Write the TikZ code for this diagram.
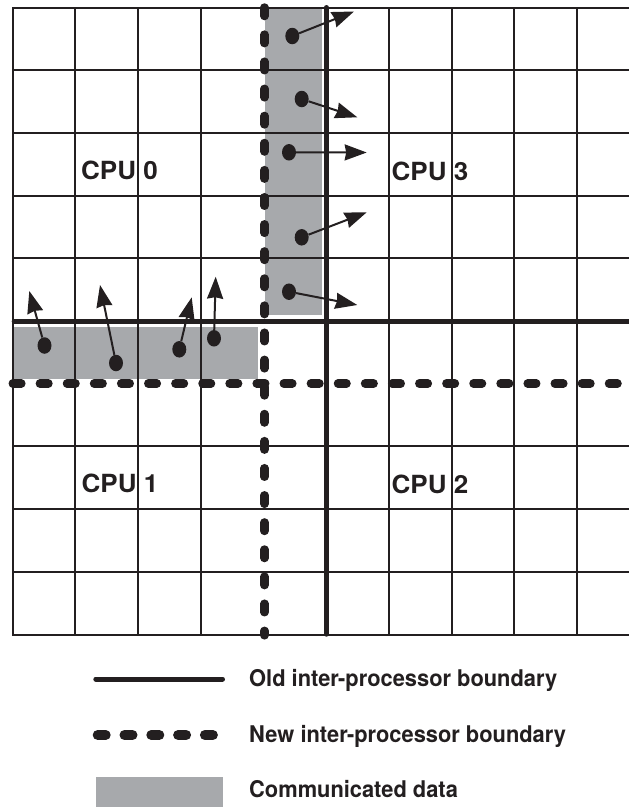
\documentclass[tikz,border=0pt]{standalone}
\usepackage{fontspec}
\setmainfont{TeX Gyre Heros}
\newfontfamily\keyfont{TeX Gyre Heros}[FakeStretch=0.95]
\newfontfamily\cpufont{TeX Gyre Heros}[FakeStretch=1.04]
\usetikzlibrary{arrows.meta,shapes.geometric}
\definecolor{ink}{RGB}{35,31,32}
\definecolor{shade}{RGB}{167,169,172}

\begin{document}
\begin{tikzpicture}[x=1pt,y=-1pt,
  cell/.style={line width=2pt, draw=ink, line cap=rect},
  oldb/.style={line width=5pt, draw=ink, line cap=round},
  newb/.style={line width=8.5pt, draw=ink, line cap=round, dash pattern=on 8.5pt off 18.6pt},
  commdata/.style={fill=shade, draw=none},
  datum/.style={ellipse, fill=ink, minimum width=14pt, minimum height=16.5pt, inner sep=0pt},
  move/.style={line width=2pt, draw=ink, -{Stealth[length=22pt,width=16pt,inset=1.5pt]}},
  cpu/.style={font=\cpufont\fontsize{25}{25}\selectfont\bfseries, text=ink, inner sep=0pt, anchor=base west},
  legtext/.style={font=\keyfont\fontsize{23}{23}\selectfont\bfseries, text=ink, inner sep=0pt, anchor=base west}
]
\useasboundingbox (0,0) rectangle (629,807);
\clip (0,0) rectangle (629,807);

% communicated data strips
\fill[commdata] (265,7.5) rectangle (321.7,315);
\fill[commdata] (12.7,326.7) rectangle (257.5,379);

% mesh cells
\foreach \i in {0,1,2,3,5,6,7,8,9,10}
  \draw[cell] ({12.7+62.7*\i},7.5) -- ({12.7+62.7*\i},634.5);
\foreach \j in {0,1,2,3,4,5,7,8,9,10}
  \draw[cell] (12.7,{7.5+62.7*\j}) -- (640,{7.5+62.7*\j});

% old inter-processor boundary
\draw[oldb] (14.2,321) -- (640,321);
\draw[oldb] (326.4,7.5) -- (326.4,634.2);

% new inter-processor boundary
\draw[newb] (264.5,7.5) -- (264.5,635.3);
\draw[newb] (12.8,383.5) -- (625,383.5);

% data moving from the vertical strip to CPU 3
\node[datum] (v1) at (292.3,36) {};
\node[datum] (v2) at (301.7,99) {};
\node[datum] (v3) at (289,152.3) {};
\node[datum] (v4) at (301.7,237.3) {};
\node[datum] (v5) at (289,291.7) {};
\coordinate (tv1) at (354,11.5);
\coordinate (tv2) at (357.3,117.3);
\coordinate (tv3) at (366.7,152.5);
\coordinate (tv4) at (366.7,212.3);
\coordinate (tv5) at (357.3,305);
\foreach \k in {1,...,5} \draw[move] (v\k) -- (tv\k);

% data moving from the horizontal strip to CPU 0
\node[datum] (h1) at (44.5,345.5) {};
\node[datum] (h2) at (116,363) {};
\node[datum] (h3) at (179.3,349.3) {};
\node[datum] (h4) at (214,338.3) {};
\coordinate (th1) at (29.3,291);
\coordinate (th2) at (100,285);
\coordinate (th3) at (191.7,297.3);
\coordinate (th4) at (215.7,276.7);
\foreach \k in {1,...,4} \draw[move] (h\k) -- (th\k);

% processor labels
\node[cpu] (cpu0) at (81,179.5) {CPU 0};
\node[cpu] (cpu3) at (391.5,180.5) {CPU 3};
\node[cpu] (cpu1) at (81.5,492.5) {CPU 1};
\node[cpu] (cpu2) at (391.5,493.5) {CPU 2};

% legend
\coordinate (ka) at (95.8,679);
\coordinate (kb) at (222.5,679);
\draw[oldb] (ka) -- (kb);
\coordinate (kc) at (97.7,735);
\coordinate (kd) at (212.9,735);
\draw[line width=10pt, draw=ink, line cap=round, dash pattern=on 8pt off 18.8pt] (kc) -- (kd);
\fill[commdata] (96,777.3) rectangle (223.3,807);
\node[legtext] (lold) at (249,686) {Old inter-processor boundary};
\node[legtext] (lnew) at (249,742) {New inter-processor boundary};
\node[legtext] (lcom) at (249,797) {Communicated data};
\end{tikzpicture}
\end{document}
